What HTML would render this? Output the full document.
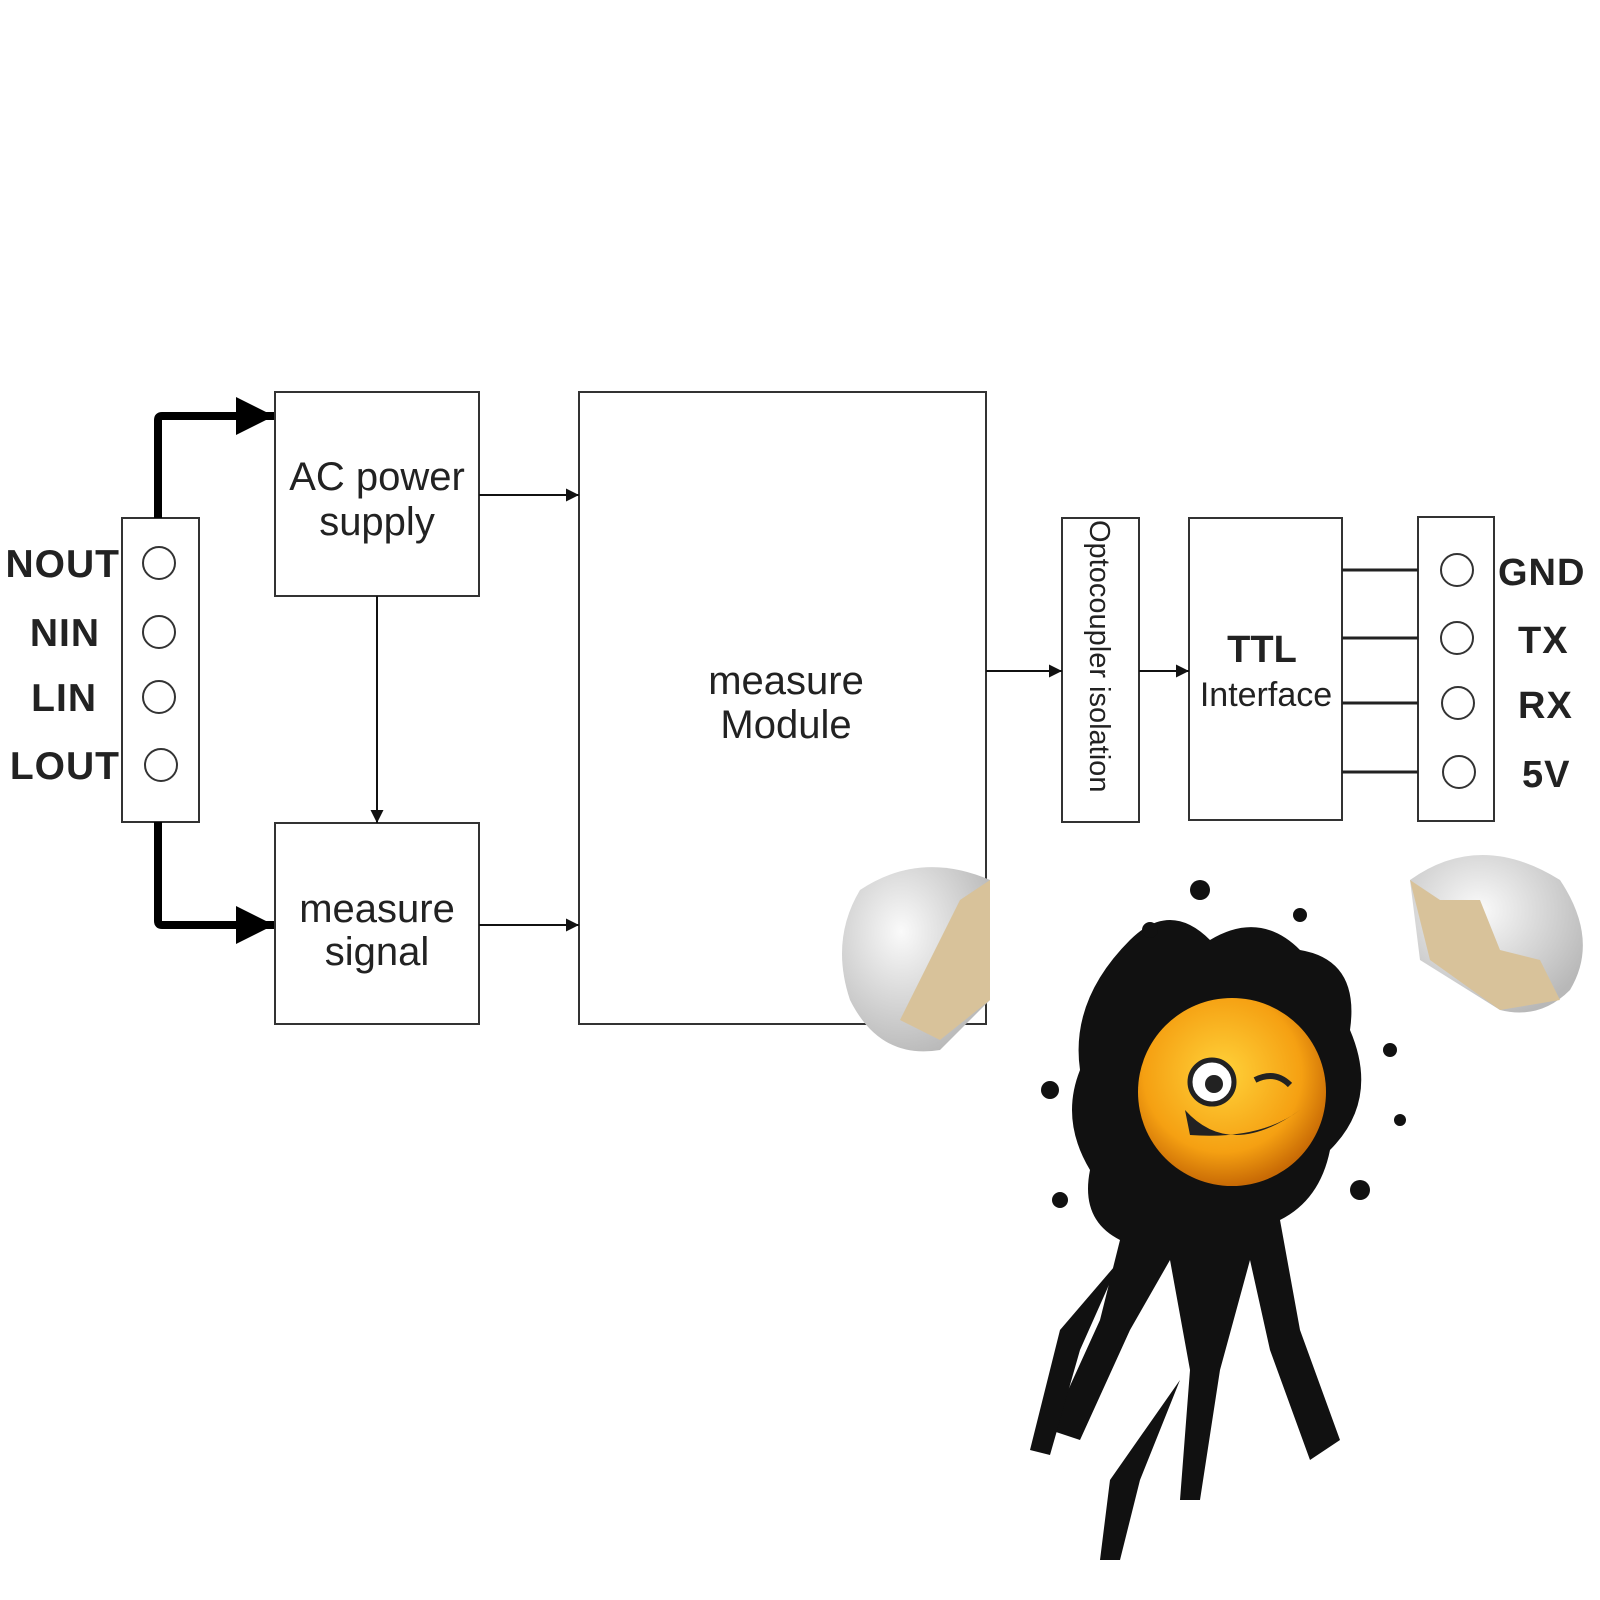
<!DOCTYPE html>
<html><head><meta charset="utf-8"><style>
html,body{margin:0;padding:0;background:#fff;}
svg{display:block}
text{font-family:"Liberation Sans","DejaVu Sans",sans-serif;fill:#222}
</style></head><body>
<svg width="1600" height="1600" viewBox="0 0 1600 1600" xmlns="http://www.w3.org/2000/svg">
<defs>
<marker id="a" viewBox="0 0 10 10" refX="10" refY="5" markerWidth="13" markerHeight="13" orient="auto" markerUnits="userSpaceOnUse"><path d="M0,0L10,5L0,10z" fill="#111"/></marker>
<marker id="b" viewBox="0 0 10 10" refX="10" refY="5" markerWidth="38" markerHeight="38" orient="auto" markerUnits="userSpaceOnUse"><path d="M0,0L10,5L0,10z" fill="#000"/></marker>
<radialGradient id="o" cx="0.45" cy="0.4" r="0.6"><stop offset="0" stop-color="#ffd23a"/><stop offset="0.7" stop-color="#f5a012"/><stop offset="1" stop-color="#c86a05"/></radialGradient>
<radialGradient id="e" cx="0.4" cy="0.35" r="0.7"><stop offset="0" stop-color="#fafafa"/><stop offset="1" stop-color="#b8b8b8"/></radialGradient>
</defs>
<g fill="none" stroke="#333" stroke-width="2">
<rect x="122" y="518" width="77" height="304"/>
<rect x="275" y="392" width="204" height="204"/>
<rect x="275" y="823" width="204" height="201"/>
<rect x="579" y="392" width="407" height="632"/>
<rect x="1062" y="518" width="77" height="304"/>
<rect x="1189" y="518" width="153" height="302"/>
<rect x="1418" y="517" width="76" height="304"/>
<circle cx="159" cy="563" r="16"/><circle cx="159" cy="632" r="16"/><circle cx="159" cy="697" r="16"/><circle cx="161" cy="765" r="16"/>
<circle cx="1457" cy="570" r="16"/><circle cx="1457" cy="638" r="16"/><circle cx="1458" cy="703" r="16"/><circle cx="1459" cy="772" r="16"/>
</g>
<g stroke="#111" stroke-width="2" fill="none">
<line x1="479" y1="495" x2="579" y2="495" marker-end="url(#a)"/>
<line x1="479" y1="925" x2="579" y2="925" marker-end="url(#a)"/>
<line x1="377" y1="596" x2="377" y2="823" marker-end="url(#a)"/>
<line x1="986" y1="671" x2="1062" y2="671" marker-end="url(#a)"/>
<line x1="1139" y1="671" x2="1189" y2="671" marker-end="url(#a)"/>
</g>
<g stroke="#222" stroke-width="3">
<line x1="1342" y1="570" x2="1418" y2="570"/><line x1="1342" y1="638" x2="1418" y2="638"/>
<line x1="1342" y1="703" x2="1418" y2="703"/><line x1="1342" y1="772" x2="1418" y2="772"/>
</g>
<g stroke="#000" stroke-width="8" fill="none">
<path d="M158,518 V420 Q158,416 162,416 H274" marker-end="url(#b)"/>
<path d="M158,822 V921 Q158,925 162,925 H274" marker-end="url(#b)"/>
</g>
<g font-size="39" font-weight="bold" text-anchor="end" letter-spacing="1">
<text x="120" y="577">NOUT</text><text x="100" y="646">NIN</text><text x="97" y="711">LIN</text><text x="120" y="779">LOUT</text>
</g>
<g font-size="38" font-weight="bold" letter-spacing="1">
<text x="1498" y="585">GND</text><text x="1518" y="653">TX</text><text x="1518" y="718">RX</text><text x="1522" y="787">5V</text>
</g>
<g font-size="40" text-anchor="middle" fill="#2a2a2a">
<text x="377" y="490">AC power</text><text x="377" y="535">supply</text>
<text x="377" y="922">measure</text><text x="377" y="965">signal</text>
<text x="786" y="694">measure</text><text x="786" y="738">Module</text>
<text x="1262" y="662" font-weight="bold" font-size="38">TTL</text>
<text x="1266" y="706" font-size="34">Interface</text>
</g>
<text transform="translate(1090,520) rotate(90)" font-size="29">Optocoupler isolation</text>
<path d="M990,880 Q920,850 860,890 Q830,940 850,1000 Q880,1060 940,1050 L990,1000z" fill="url(#e)"/>
<path d="M990,880 L960,900 L940,940 L920,980 L900,1020 L940,1040 L990,1000z" fill="#d8c29a"/>
<path d="M1410,880 Q1480,830 1560,880 Q1600,940 1570,990 Q1540,1020 1500,1010 L1420,960z" fill="url(#e)"/>
<path d="M1410,880 L1440,900 L1480,900 L1500,950 L1540,960 L1560,1000 L1500,1010 L1430,960z" fill="#d8c29a"/>
<g fill="#111">
<path d="M1130,940 Q1170,900 1210,940 Q1260,910 1300,950 Q1360,960 1350,1030 Q1380,1100 1330,1150 Q1320,1200 1280,1220 L1300,1330 L1340,1440 L1310,1460 L1270,1350 L1250,1260 L1220,1370 L1200,1500 L1180,1500 L1190,1370 L1170,1260 L1130,1330 L1080,1440 L1050,1430 L1100,1320 L1120,1240 Q1080,1220 1090,1170 Q1060,1120 1080,1070 Q1070,1000 1130,940z"/>
<path d="M1120,1260 L1060,1330 L1030,1450 L1050,1455 L1080,1350z"/>
<path d="M1180,1380 L1110,1480 L1100,1560 L1120,1560 L1140,1480z"/>
<circle cx="1200" cy="890" r="10"/><circle cx="1150" cy="930" r="8"/><circle cx="1300" cy="915" r="7"/><circle cx="1050" cy="1090" r="9"/><circle cx="1390" cy="1050" r="7"/><circle cx="1360" cy="1190" r="10"/><circle cx="1060" cy="1200" r="8"/><circle cx="1400" cy="1120" r="6"/>
</g>
<circle cx="1232" cy="1092" r="94" fill="url(#o)"/>
<circle cx="1212" cy="1082" r="22" fill="#fff" stroke="#222" stroke-width="5"/>
<circle cx="1214" cy="1084" r="9" fill="#222"/>
<path d="M1255,1080 Q1275,1070 1290,1085" stroke="#222" stroke-width="6" fill="none"/>
<path d="M1185,1110 Q1230,1160 1300,1110 Q1260,1140 1190,1135z" fill="#222"/>
</svg>
</body></html>
